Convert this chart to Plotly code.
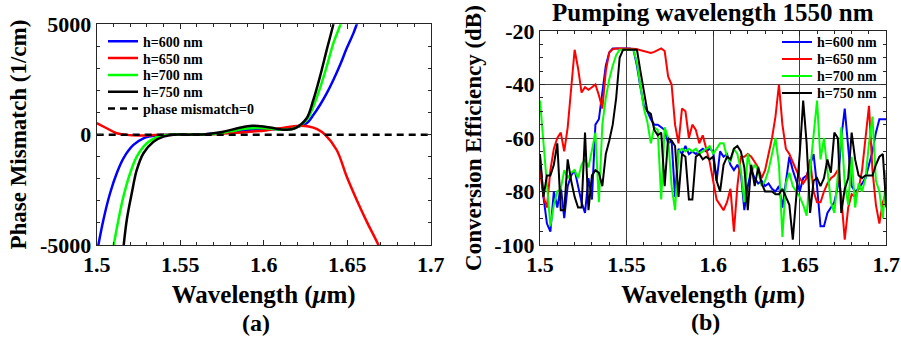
import plotly.graph_objects as go

# ---------------- Panel (a): phase mismatch ----------------
x_h600 = [1.500, 1.504, 1.508, 1.512, 1.516, 1.522, 1.528, 1.536, 1.545, 1.555, 1.565, 1.575, 1.585, 1.595,
          1.600, 1.605, 1.612, 1.618, 1.6257, 1.6297, 1.6337, 1.6377, 1.6417, 1.6457, 1.6497, 1.6537, 1.6557, 1.658]
pm_h600 = [-5400, -3865, -2655, -1750, -1070, -467, -165, -30, 0, 0, 20, 80, 170, 240,
           260, 250, 230, 300, 513, 890, 1345, 1870, 2475, 3155, 3910, 4590, 5000, 5500]

x_h650 = [1.500, 1.506, 1.512, 1.518, 1.526, 1.535, 1.545, 1.555, 1.565, 1.575, 1.585, 1.595, 1.600, 1.610,
          1.618, 1.622, 1.627, 1.632, 1.6367, 1.6437, 1.6497, 1.6557, 1.6617, 1.6687, 1.670]
pm_h650 = [520, 290, 63, -10, -35, -20, 0, 0, 10, 40, 90, 150, 180, 290,
           380, 400, 370, 250, 0, -695, -1900, -2960, -3940, -5000, -5250]

x_h700 = [1.509, 1.513, 1.516, 1.520, 1.524, 1.530, 1.536, 1.542, 1.550, 1.560, 1.570, 1.580, 1.590, 1.597,
          1.605, 1.612, 1.618, 1.6257, 1.6297, 1.6337, 1.6377, 1.6417, 1.646, 1.648]
pm_h700 = [-5500, -3865, -2810, -1750, -997, -390, -118, -10, 0, 0, 30, 150, 280, 300,
           270, 220, 280, 664, 1268, 2100, 3080, 4140, 5000, 5500]

x_h750 = [1.5155, 1.518, 1.521, 1.524, 1.528, 1.534, 1.540, 1.546, 1.555, 1.565, 1.575, 1.585, 1.593, 1.600,
          1.607, 1.614, 1.619, 1.6257, 1.6297, 1.6337, 1.6377, 1.6417, 1.643]
pm_h750 = [-5500, -3865, -2655, -1600, -843, -317, -90, 0, 0, 20, 120, 300, 400, 370,
           280, 220, 300, 740, 1570, 2630, 3830, 5000, 5500]

x_zero = [1.5, 1.7]
pm_zero = [0, 0]

# ---------------- Panel (b): conversion efficiency ----------------
wl_b = [round(1.5 + 0.002 * i, 3) for i in range(101)]

ce_h600 = [-68, -82, -92, -95, -80, -86, -78, -90, -78, -74,
           -72, -78, -84, -88, -75, -83, -55, -53, -42, -33,
           -28, -26.5, -26.5, -26.5, -26.5, -26.5, -26.5, -27, -33, -41,
           -48, -50, -53, -55, -55, -56, -57, -62, -61, -82,
           -64, -66, -63, -66, -65, -66, -65, -64, -65, -64,
           -65, -76, -65, -67, -66, -70, -72, -70, -73, -87,
           -78, -72, -75, -77, -76, -78, -77, -79, -80, -78,
           -86, -76, -67, -72, -76, -80, -75, -74, -70, -66,
           -78, -93, -93, -88, -86, -84, -78, -60, -49, -65,
           -78, -80, -79, -77, -75, -70, -65, -58, -53, -53,
           -53]

ce_h650 = [-72, -82, -86, -72, -64, -60, -58, -65, -56, -40,
           -27, -34, -43, -41, -42, -41, -40, -44, -49, -35,
           -28, -26.8, -26.5, -26.5, -26.5, -26.5, -26.5, -26.6, -26.8, -27.2,
           -27.6, -28, -28.2, -27.8, -27, -26.5, -27.5, -37, -40, -55,
           -62, -49, -50, -60, -55, -57, -62, -59, -64, -69,
           -76, -83, -85, -87, -84, -79, -95, -78, -67, -67,
           -66, -67, -69, -71, -75, -72, -66, -60, -52, -40,
           -55, -64, -66, -69, -72, -75, -77, -75, -68, -80,
           -84, -84, -80, -77, -75, -74, -72, -82, -98, -86,
           -81, -82, -79, -72, -60, -48, -72, -85, -92, -84,
           -80]

ce_h700 = [-46, -62, -80, -93, -85, -80, -79, -72, -75, -73,
           -72, -75, -70, -68, -71, -64, -58, -84, -55, -45,
           -38, -33, -29, -27, -27, -27, -27, -27, -32, -40,
           -49, -54, -62, -56, -57, -83, -56, -60, -78, -87,
           -65, -64, -65, -64, -65, -64, -66, -65, -64, -63,
           -66, -64, -62, -62, -67, -69, -64, -66, -72, -84,
           -66, -73, -70, -72, -78, -76, -72, -66, -60, -70,
           -97, -77, -73, -78, -80, -82, -85, -89, -72, -60,
           -46, -68, -60, -72, -84, -88, -74, -56, -77, -85,
           -67, -86, -77, -80, -75, -62, -52, -76, -80, -90,
           -72]

ce_h750 = [-66, -82, -74, -74, -70, -62, -87, -87, -68, -76,
           -82, -86, -86, -58, -87, -74, -72, -73, -78, -66,
           -61, -55, -45, -30, -27, -27, -27, -27, -27, -35,
           -43, -50, -51, -57, -59, -58, -78, -60, -61, -63,
           -82, -66, -67, -83, -83, -67, -66, -68, -67, -68,
           -67, -76, -80, -70, -67, -68, -64, -63, -65, -71,
           -87, -70, -78, -71, -77, -80, -80, -80, -81, -81,
           -79, -82, -85, -98, -82, -66, -46, -62, -88, -76,
           -75, -78, -75, -68, -73, -58, -60, -88, -79, -75,
           -58, -68, -74, -75, -74, -74, -74, -70, -67, -66,
           -86]

names = ["h=600 nm", "h=650 nm", "h=700 nm", "h=750 nm"]
zero_name = "phase mismatch=0"
colors = ["#0000FF", "#FF0000", "#00FF00", "#000000"]

xa_tickvals = [1.5, 1.55, 1.6, 1.65, 1.7]
xa_ticktext = ["1.5", "1.55", "1.6", "1.65", "1.7"]
ya_tickvals = [-5000, 0, 5000]
ya_ticktext = ["-5000", "0", "5000"]
yb_tickvals = [-100, -80, -60, -40, -20]
yb_ticktext = ["-100", "-80", "-60", "-40", "-20"]

FONT = "Liberation Serif, Times New Roman, serif"
W, H = 901, 342

# one legend box per entry so the row pitch can follow the reference
LEFT_ROWS = [41.7, 58.5, 75.3, 92.2, 109.0]
RIGHT_ROWS = [42.3, 59.3, 76.3, 93.3]

fig = go.Figure()
legend_layout = {}
k = 0


def new_legend(x_px, y_px):
    global k
    k += 1
    key = "legend" if k == 1 else "legend%d" % k
    legend_layout[key] = dict(
        x=x_px / W, y=1 - y_px / H, xanchor="left", yanchor="middle",
        bgcolor="rgba(0,0,0,0)", borderwidth=0,
        font=dict(family=FONT, size=14, color="#000000", weight="bold"),
        itemwidth=30, tracegroupgap=0,
    )
    return key


left_series = [(x_h600, pm_h600), (x_h650, pm_h650), (x_h700, pm_h700), (x_h750, pm_h750)]
for i, ((xs, ys), nm, c) in enumerate(zip(left_series, names, colors)):
    fig.add_trace(go.Scatter(x=xs, y=ys, mode="lines", name=nm, line=dict(color=c, width=2.5, shape="spline"),
                             xaxis="x", yaxis="y", legend=new_legend(103, LEFT_ROWS[i])))
fig.add_trace(go.Scatter(x=x_zero, y=pm_zero, mode="lines", name=zero_name,
                         line=dict(color="#000000", width=2.5, dash="7px,5px"),
                         xaxis="x", yaxis="y", legend=new_legend(103, LEFT_ROWS[4])))

right_series = [ce_h600, ce_h650, ce_h700, ce_h750]
for i, (ys, nm, c) in enumerate(zip(right_series, names, colors)):
    fig.add_trace(go.Scatter(x=wl_b, y=ys, mode="lines", name=nm, line=dict(color=c, width=2),
                             xaxis="x2", yaxis="y2", legend=new_legend(777, RIGHT_ROWS[i])))

axis_common = dict(
    showline=True, linecolor="#262626", linewidth=1, mirror="allticks",
    ticks="inside", ticklen=5, tickcolor="#262626",
    tickfont=dict(family=FONT, size=22, color="#000000", weight="bold"),
    zeroline=False, automargin=False,
)

fig.update_layout(
    width=W, height=H,
    margin=dict(l=0, r=0, t=0, b=0, autoexpand=False),
    paper_bgcolor="white", plot_bgcolor="white",
    font=dict(family=FONT, color="#000000"),
    xaxis=dict(domain=[96.7 / W, 430.7 / W], range=[1.5, 1.7], anchor="y",
               tickvals=xa_tickvals, ticktext=xa_ticktext, showgrid=False,
               minor=dict(dtick=0.01, ticks="inside", ticklen=3, tickcolor="#262626", showgrid=False),
               title=dict(text="Wavelength (<i>μ</i>m)", standoff=9,
                          font=dict(family=FONT, size=25, weight="bold")),
               **axis_common),
    yaxis=dict(domain=[1 - 245 / H, 1 - 24.3 / H], range=[-5000, 5000], anchor="x",
               tickvals=ya_tickvals, ticktext=ya_ticktext, showgrid=False,
               minor=dict(dtick=1000, ticks="inside", ticklen=3, tickcolor="#262626", showgrid=False),
               title=dict(text="Phase Mismatch (1/cm)", standoff=6,
                          font=dict(family=FONT, size=23, weight="bold")),
               **axis_common),
    xaxis2=dict(domain=[540 / W, 886.3 / W], range=[1.5, 1.7], anchor="y2",
                tickvals=xa_tickvals, ticktext=xa_ticktext,
                showgrid=True, gridcolor="#404040", gridwidth=1,
                minor=dict(dtick=0.01, ticks="inside", ticklen=3, tickcolor="#262626", showgrid=False),
                title=dict(text="Wavelength (<i>μ</i>m)", standoff=9,
                           font=dict(family=FONT, size=25, weight="bold")),
                **axis_common),
    yaxis2=dict(domain=[1 - 245 / H, 1 - 31 / H], range=[-100, -20], anchor="x2",
                tickvals=yb_tickvals, ticktext=yb_ticktext,
                showgrid=True, gridcolor="#404040", gridwidth=1,
                minor=dict(dtick=5, ticks="inside", ticklen=3, tickcolor="#262626", showgrid=False),
                title=dict(text="Conversion Efficiency (dB)", standoff=6,
                           font=dict(family=FONT, size=23, weight="bold")),
                **axis_common),
    showlegend=True,
    annotations=[
        dict(text="Pumping wavelength 1550 nm", x=713 / W, y=1 - 13 / H, xref="paper", yref="paper",
             showarrow=False, xanchor="center", yanchor="middle",
             font=dict(family=FONT, size=25, color="#000000", weight="bold")),
        dict(text="(a)", x=256 / W, y=1 - 323 / H, xref="paper", yref="paper",
             showarrow=False, xanchor="center", yanchor="middle",
             font=dict(family=FONT, size=24, color="#000000", weight="bold")),
        dict(text="(b)", x=705 / W, y=1 - 322 / H, xref="paper", yref="paper",
             showarrow=False, xanchor="center", yanchor="middle",
             font=dict(family=FONT, size=24, color="#000000", weight="bold")),
    ],
)
fig.update_layout(**legend_layout)

fig.write_html(
    "out.html",
    config={"displayModeBar": False},
    post_script="document.body.style.margin='0';document.body.style.overflow='hidden';",
)
